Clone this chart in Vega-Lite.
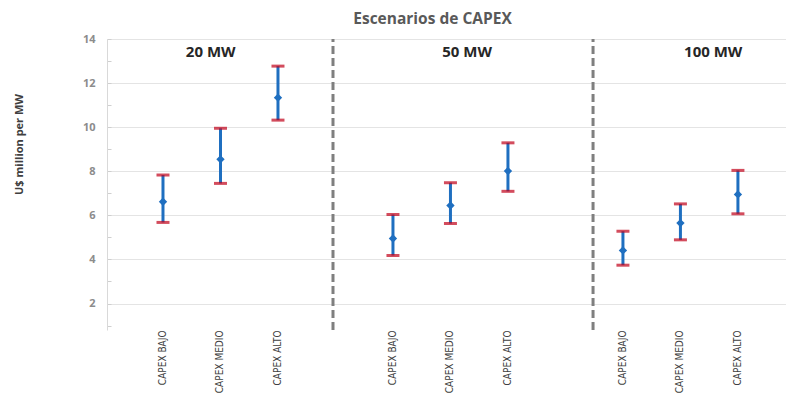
{
  "$schema": "https://vega.github.io/schema/vega-lite/v6.json",
  "width": 679,
  "height": 291,
  "autosize": {"type": "none"},
  "padding": {"left": 107, "top": 39, "right": 0, "bottom": 64},
  "background": "white",
  "title": {
    "text": "Escenarios de CAPEX",
    "font": "Open Sans",
    "fontSize": 15.5,
    "fontWeight": "bold",
    "color": "#595959",
    "anchor": "middle",
    "frame": "group",
    "dx": -14,
    "offset": -6,
    "baseline": "alphabetic"
  },
  "config": {
    "view": {"stroke": null},
    "font": "Open Sans"
  },
  "datasets": {
    "capex": [
      {"clave": "20 MW|CAPEX BAJO", "capacidad": "20 MW", "escenario": "CAPEX BAJO", "bajo": 5.68, "central": 6.62, "alto": 7.83},
      {"clave": "20 MW|CAPEX MEDIO", "capacidad": "20 MW", "escenario": "CAPEX MEDIO", "bajo": 7.45, "central": 8.54, "alto": 9.95},
      {"clave": "20 MW|CAPEX ALTO", "capacidad": "20 MW", "escenario": "CAPEX ALTO", "bajo": 10.32, "central": 11.34, "alto": 12.77},
      {"clave": "50 MW|CAPEX BAJO", "capacidad": "50 MW", "escenario": "CAPEX BAJO", "bajo": 4.18, "central": 4.95, "alto": 6.04},
      {"clave": "50 MW|CAPEX MEDIO", "capacidad": "50 MW", "escenario": "CAPEX MEDIO", "bajo": 5.63, "central": 6.45, "alto": 7.48},
      {"clave": "50 MW|CAPEX ALTO", "capacidad": "50 MW", "escenario": "CAPEX ALTO", "bajo": 7.09, "central": 8.01, "alto": 9.29},
      {"clave": "100 MW|CAPEX BAJO", "capacidad": "100 MW", "escenario": "CAPEX BAJO", "bajo": 3.74, "central": 4.41, "alto": 5.28},
      {"clave": "100 MW|CAPEX MEDIO", "capacidad": "100 MW", "escenario": "CAPEX MEDIO", "bajo": 4.89, "central": 5.65, "alto": 6.52},
      {"clave": "100 MW|CAPEX ALTO", "capacidad": "100 MW", "escenario": "CAPEX ALTO", "bajo": 6.07, "central": 6.95, "alto": 8.04}
    ],
    "grupos": [
      {"grupo": "20 MW", "clave": "20 MW|CAPEX MEDIO"},
      {"grupo": "50 MW", "clave": "50 MW|CAPEX MEDIO"},
      {"grupo": "100 MW", "clave": "100 MW|CAPEX MEDIO"}
    ]
  },
  "data": {"name": "capex"},
  "encoding": {
    "x": {
      "field": "clave",
      "type": "nominal",
      "title": null,
      "scale": {
        "type": "band",
        "domain": [
          "20 MW|CAPEX BAJO", "20 MW|CAPEX MEDIO", "20 MW|CAPEX ALTO", "sep1",
          "50 MW|CAPEX BAJO", "50 MW|CAPEX MEDIO", "50 MW|CAPEX ALTO", "sep2",
          "100 MW|CAPEX BAJO", "100 MW|CAPEX MEDIO", "100 MW|CAPEX ALTO"
        ],
        "paddingInner": 0,
        "paddingOuter": 0.405,
        "align": 0.585
      },
      "axis": {
        "labelAngle": -90,
        "labelExpr": "indexof(datum.value, '|') >= 0 ? split(datum.value, '|')[1] : ''",
        "labelFont": "Liberation Sans Narrow, DejaVu Sans Condensed, sans-serif",
        "labelFontSize": 10,
        "labelColor": "#404040",
        "labelPadding": 0,
        "ticks": false,
        "domain": false,
        "grid": false
      }
    },
    "y": {
      "type": "quantitative",
      "title": "U$ million per MW",
      "scale": {"domain": [0.8, 14], "nice": false, "zero": false},
      "axis": {
        "values": [1, 1.5, 2, 2.5, 3, 3.5, 4, 4.5, 5, 5.5, 6, 6.5, 7, 7.5, 8, 8.5, 9, 9.5, 10, 10.5, 11, 11.5, 12, 12.5, 13, 13.5, 14],
        "format": "d",
        "labelOpacity": {"condition": {"test": "datum.value % 2 === 0", "value": 1}, "value": 0},
        "labelOverlap": false,
        "labelFont": "Open Sans",
        "labelFontSize": 11,
        "labelFontWeight": "bold",
        "labelColor": "#8c8c8c",
        "labelPadding": 16,
        "grid": true,
        "gridColor": "#e4e4e4",
        "gridWidth": 1,
        "gridOpacity": {"condition": {"test": "datum.value % 2 === 0", "value": 1}, "value": 0},
        "domainColor": "#d9d9d9",
        "tickColor": "#cfcfcf",
        "tickSize": -4,
        "titleFont": "Open Sans",
        "titleFontSize": 11,
        "titleFontWeight": "bold",
        "titleColor": "#404040",
        "titleAngle": -90,
        "titleX": -88,
        "titleY": 105,
        "titleAlign": "center",
        "titleBaseline": "middle"
      }
    }
  },
  "layer": [
    {
      "mark": {"type": "rule", "color": "#1f6fc0", "strokeWidth": 3},
      "encoding": {
        "y": {"field": "bajo"},
        "y2": {"field": "alto"}
      }
    },
    {
      "mark": {"type": "tick", "color": "#c00018", "thickness": 3, "size": 13},
      "encoding": {"y": {"field": "bajo"}}
    },
    {
      "mark": {"type": "tick", "color": "#c00018", "thickness": 3, "size": 13},
      "encoding": {"y": {"field": "alto"}}
    },
    {
      "mark": {"type": "point", "shape": "diamond", "filled": true, "size": 70, "color": "#1f6fc0", "opacity": 1},
      "encoding": {"y": {"field": "central"}}
    },
    {
      "mark": {"type": "rule", "color": "#7f7f7f", "strokeWidth": 3, "strokeDash": [8, 4]},
      "data": {"values": [{"clave": "sep1"}]},
      "encoding": {
        "x": {"field": "clave", "type": "nominal", "bandPosition": 0.457},
        "y": {"datum": 0.8},
        "y2": {"datum": 14}
      }
    },
    {
      "mark": {"type": "rule", "color": "#7f7f7f", "strokeWidth": 3, "strokeDash": [8, 4]},
      "data": {"values": [{"clave": "sep2"}]},
      "encoding": {
        "x": {"field": "clave", "type": "nominal", "bandPosition": 0.98},
        "y": {"datum": 0.8},
        "y2": {"datum": 14}
      }
    },
    {
      "data": {"name": "grupos"},
      "transform": [{"filter": "datum.grupo === '20 MW'"}],
      "mark": {"type": "text", "font": "Open Sans", "fontSize": 15, "fontWeight": "bold", "color": "#262626", "baseline": "alphabetic"},
      "encoding": {
        "x": {"field": "clave", "type": "nominal", "bandPosition": 0.33},
        "y": {"datum": 13.2},
        "text": {"field": "grupo"}
      }
    },
    {
      "data": {"name": "grupos"},
      "transform": [{"filter": "datum.grupo === '50 MW'"}],
      "mark": {"type": "text", "font": "Open Sans", "fontSize": 15, "fontWeight": "bold", "color": "#262626", "baseline": "alphabetic"},
      "encoding": {
        "x": {"field": "clave", "type": "nominal", "bandPosition": 0.79},
        "y": {"datum": 13.2},
        "text": {"field": "grupo"}
      }
    },
    {
      "data": {"name": "grupos"},
      "transform": [{"filter": "datum.grupo === '100 MW'"}],
      "mark": {"type": "text", "font": "Open Sans", "fontSize": 15, "fontWeight": "bold", "color": "#262626", "baseline": "alphabetic"},
      "encoding": {
        "x": {"field": "clave", "type": "nominal", "bandPosition": 1.07},
        "y": {"datum": 13.2},
        "text": {"field": "grupo"}
      }
    }
  ]
}
